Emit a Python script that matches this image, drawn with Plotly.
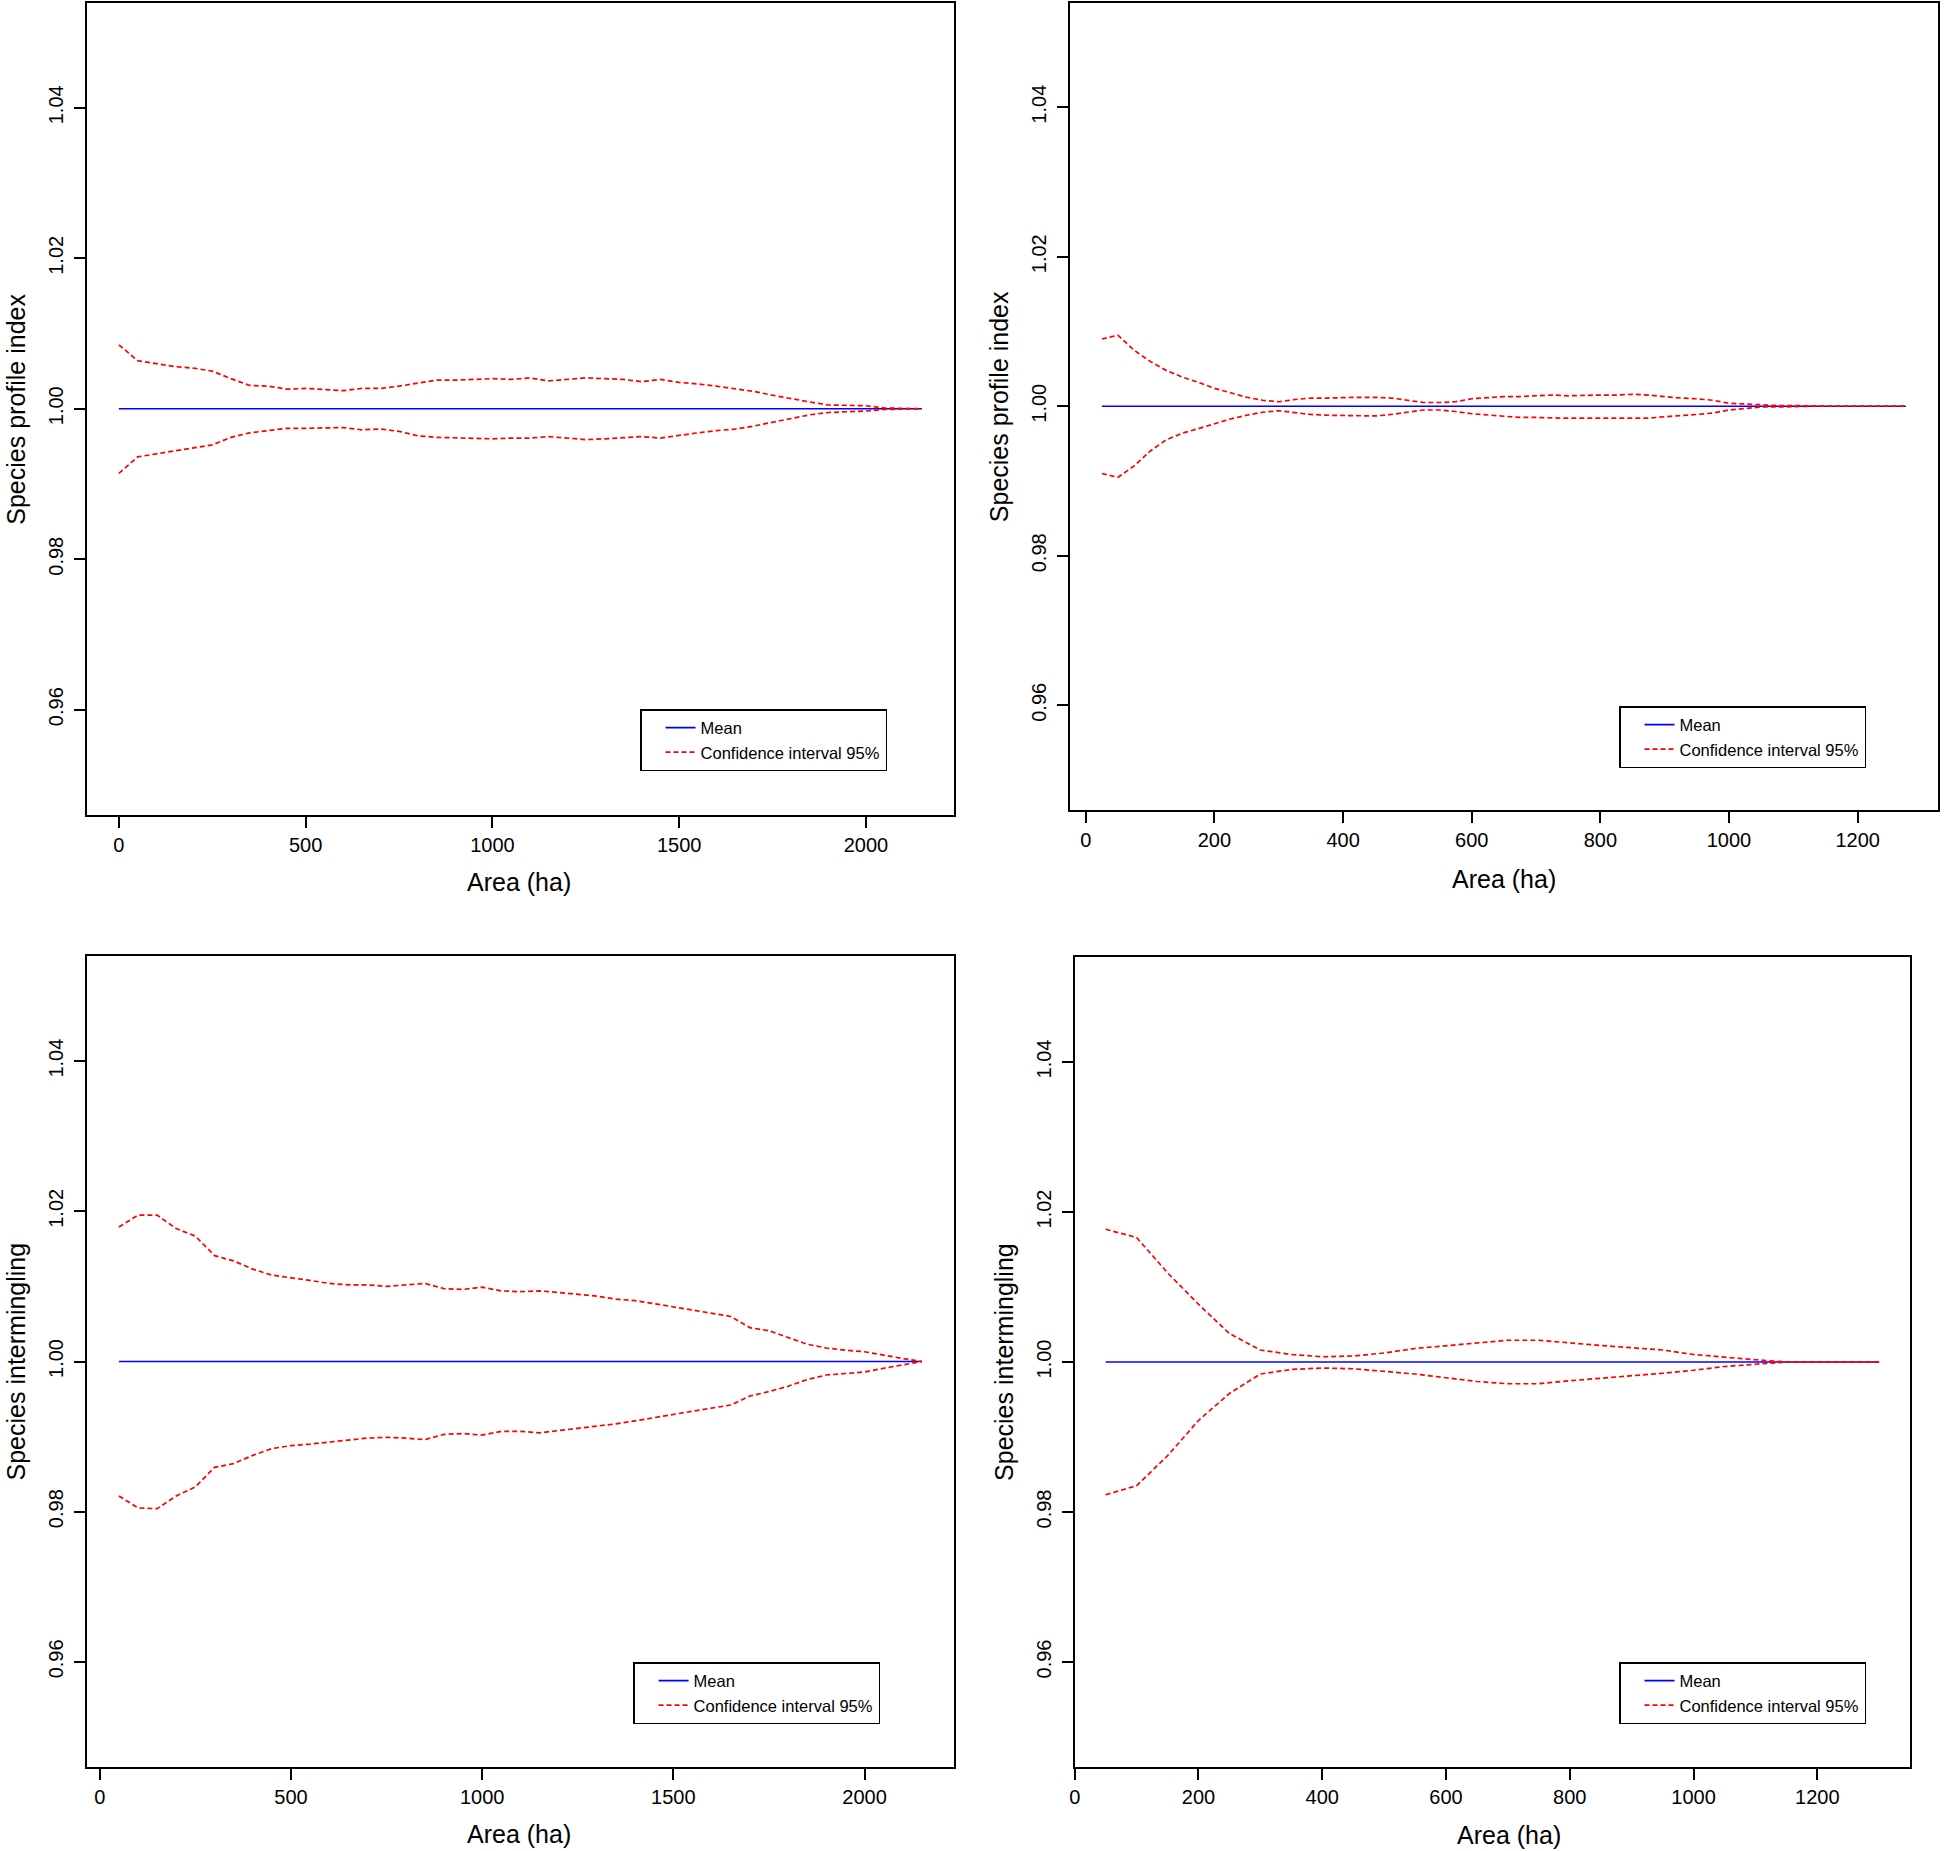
import plotly.graph_objects as go

W, H = 1946, 1851

# ---------------- data ----------------
# Panel A: top-left (Species profile index)
area_a = [0, 50, 100, 150, 200, 250, 300, 350, 400, 450, 500, 550, 600, 650, 700,
          750, 800, 850, 900, 950, 1000, 1050, 1100, 1150, 1200, 1250, 1300, 1350,
          1400, 1450, 1500, 1550, 1600, 1650, 1700, 1750, 1800, 1850, 1900, 1950,
          2000, 2050, 2100, 2150]
mean_a = [1.00, 1.00, 1.00, 1.00, 1.00, 1.00, 1.00, 1.00, 1.00, 1.00, 1.00, 1.00,
          1.00, 1.00, 1.00, 1.00, 1.00, 1.00, 1.00, 1.00, 1.00, 1.00, 1.00, 1.00,
          1.00, 1.00, 1.00, 1.00, 1.00, 1.00, 1.00, 1.00, 1.00, 1.00, 1.00, 1.00,
          1.00, 1.00, 1.00, 1.00, 1.00, 1.00, 1.00, 1.00]
upper_a = [1.0085, 1.0064, 1.0060, 1.0056, 1.0054, 1.0050, 1.0040, 1.0031, 1.0030,
           1.0026, 1.0027, 1.0025, 1.0024, 1.0027, 1.0027, 1.0030, 1.0034, 1.0038,
           1.0038, 1.0039, 1.0040, 1.0039, 1.0041, 1.0037, 1.0039, 1.0041, 1.0040,
           1.0039, 1.0036, 1.0039, 1.0035, 1.0033, 1.0030, 1.0027, 1.0023, 1.0018,
           1.0013, 1.0009, 1.0005, 1.0004, 1.0004, 1.0001, 1.0001, 1.0000]
lower_a = [0.9914, 0.9936, 0.9940, 0.9944, 0.9947, 0.9952, 0.9962, 0.9968, 0.9971,
           0.9974, 0.9974, 0.9975, 0.9975, 0.9972, 0.9973, 0.9970, 0.9964, 0.9962,
           0.9961, 0.9960, 0.9960, 0.9961, 0.9961, 0.9963, 0.9961, 0.9959, 0.9960,
           0.9961, 0.9963, 0.9961, 0.9965, 0.9968, 0.9971, 0.9973, 0.9977, 0.9982,
           0.9988, 0.9992, 0.9995, 0.9996, 0.9997, 0.9999, 1.0000, 1.0000]

# Panel B: top-right (Species profile index)
area_b = [25, 50, 75, 100, 125, 150, 175, 200, 225, 250, 275, 300, 325, 350, 375,
          400, 425, 450, 475, 500, 525, 550, 575, 600, 625, 650, 675, 700, 725, 750,
          775, 800, 825, 850, 875, 900, 925, 950, 975, 1000, 1025, 1050, 1075, 1100,
          1125, 1150, 1175, 1200, 1225, 1250, 1275]
mean_b = [1.00, 1.00, 1.00, 1.00, 1.00, 1.00, 1.00, 1.00, 1.00, 1.00, 1.00, 1.00,
          1.00, 1.00, 1.00, 1.00, 1.00, 1.00, 1.00, 1.00, 1.00, 1.00, 1.00, 1.00,
          1.00, 1.00, 1.00, 1.00, 1.00, 1.00, 1.00, 1.00, 1.00, 1.00, 1.00, 1.00,
          1.00, 1.00, 1.00, 1.00, 1.00, 1.00, 1.00, 1.00, 1.00, 1.00, 1.00, 1.00,
          1.00, 1.00, 1.00]
upper_b = [1.0090, 1.0095, 1.0075, 1.0060, 1.0048, 1.0039, 1.0032, 1.0024, 1.0018,
           1.0012, 1.0008, 1.0006, 1.0009, 1.0011, 1.0011, 1.0012, 1.0012, 1.0012,
           1.0011, 1.0008, 1.0005, 1.0005, 1.0006, 1.0010, 1.0012, 1.0013, 1.0013,
           1.0014, 1.0015, 1.0014, 1.0015, 1.0015, 1.0015, 1.0016, 1.0015, 1.0013,
           1.0011, 1.0010, 1.0008, 1.0004, 1.0003, 1.0001, 1.0001, 1.0001, 1.0000,
           1.0000, 1.0000, 1.0000, 1.0000, 1.0000, 1.0000]
lower_b = [0.9910, 0.9905, 0.9920, 0.9940, 0.9955, 0.9964, 0.9970, 0.9977, 0.9983,
           0.9988, 0.9992, 0.9994, 0.9991, 0.9989, 0.9988, 0.9988, 0.9988, 0.9987,
           0.9989, 0.9992, 0.9995, 0.9995, 0.9993, 0.9990, 0.9988, 0.9987, 0.9985,
           0.9985, 0.9984, 0.9984, 0.9984, 0.9984, 0.9984, 0.9984, 0.9984, 0.9986,
           0.9988, 0.9989, 0.9991, 0.9995, 0.9997, 0.9999, 0.9999, 1.0000, 1.0000,
           1.0000, 1.0000, 1.0000, 1.0000, 1.0000, 1.0000]

# Panel C: bottom-left (Species intermingling)
area_c = [50, 100, 150, 200, 250, 300, 350, 400, 450, 500, 550, 600, 650, 700, 750,
          800, 850, 900, 950, 1000, 1050, 1100, 1150, 1200, 1250, 1300, 1350, 1400,
          1450, 1500, 1550, 1600, 1650, 1700, 1750, 1800, 1850, 1900, 1950, 2000,
          2050, 2100, 2150]
mean_c = [1.00, 1.00, 1.00, 1.00, 1.00, 1.00, 1.00, 1.00, 1.00, 1.00, 1.00, 1.00,
          1.00, 1.00, 1.00, 1.00, 1.00, 1.00, 1.00, 1.00, 1.00, 1.00, 1.00, 1.00,
          1.00, 1.00, 1.00, 1.00, 1.00, 1.00, 1.00, 1.00, 1.00, 1.00, 1.00, 1.00,
          1.00, 1.00, 1.00, 1.00, 1.00, 1.00, 1.00]
upper_c = [1.0179, 1.0195, 1.0195, 1.0177, 1.0167, 1.0141, 1.0134, 1.0123, 1.0115,
           1.0112, 1.0108, 1.0104, 1.0102, 1.0102, 1.0100, 1.0102, 1.0104, 1.0097,
           1.0096, 1.0099, 1.0094, 1.0093, 1.0094, 1.0092, 1.0090, 1.0087, 1.0083,
           1.0081, 1.0077, 1.0073, 1.0069, 1.0065, 1.0060, 1.0045, 1.0041, 1.0032,
           1.0023, 1.0018, 1.0015, 1.0013, 1.0008, 1.0004, 1.0000]
lower_c = [0.9821, 0.9805, 0.9804, 0.9821, 0.9833, 0.9859, 0.9864, 0.9875, 0.9884,
           0.9888, 0.9890, 0.9893, 0.9896, 0.9898, 0.9899, 0.9898, 0.9896, 0.9903,
           0.9904, 0.9902, 0.9907, 0.9907, 0.9905, 0.9908, 0.9910, 0.9913, 0.9917,
           0.9921, 0.9925, 0.9929, 0.9934, 0.9938, 0.9942, 0.9954, 0.9960, 0.9967,
           0.9976, 0.9982, 0.9984, 0.9986, 0.9991, 0.9996, 1.0000]

# Panel D: bottom-right (Species intermingling)
area_d = [50, 100, 150, 200, 250, 300, 350, 400, 450, 500, 550, 600, 650, 700, 750,
          800, 850, 900, 950, 1000, 1050, 1100, 1150, 1200, 1250, 1300]
mean_d = [1.00, 1.00, 1.00, 1.00, 1.00, 1.00, 1.00, 1.00, 1.00, 1.00, 1.00, 1.00,
          1.00, 1.00, 1.00, 1.00, 1.00, 1.00, 1.00, 1.00, 1.00, 1.00, 1.00, 1.00,
          1.00, 1.00]
upper_d = [1.0177, 1.0166, 1.0119, 1.0077, 1.0038, 1.0016, 1.0010, 1.0007, 1.0008,
           1.0012, 1.0018, 1.0022, 1.0026, 1.0029, 1.0029, 1.0025, 1.0022, 1.0019,
           1.0016, 1.0010, 1.0006, 1.0003, 1.0000, 1.0000, 1.0000, 1.0000]
lower_d = [0.9823, 0.9835, 0.9875, 0.9922, 0.9958, 0.9984, 0.9990, 0.9992, 0.9991,
           0.9988, 0.9984, 0.9979, 0.9974, 0.9971, 0.9971, 0.9975, 0.9978, 0.9981,
           0.9985, 0.9989, 0.9994, 0.9997, 1.0000, 1.0000, 1.0000, 1.0000]

# ticks and labels
xticks_long = [0, 500, 1000, 1500, 2000]
xticks_short = [0, 200, 400, 600, 800, 1000, 1200]
yticks = [0.96, 0.98, 1.00, 1.02, 1.04]
ytick_labels = ["0.96", "0.98", "1.00", "1.02", "1.04"]
ylim = [0.95, 1.05]
x_title = "Area (ha)"
y_title_top = "Species profile index"
y_title_bottom = "Species intermingling"
legend_labels = ["Mean", "Confidence interval 95%"]

# ---------------- layout geometry (pixels) ----------------
FONT = "Liberation Sans, Arial, Helvetica, sans-serif"
panels = [
    dict(x=area_a, m=mean_a, u=upper_a, l=lower_a, xt=xticks_long, yt=y_title_top,
         box=(81, 951, 2.5, 815), leg=(636, 709), xtp=(515, 882), ytx=10),
    dict(x=area_b, m=mean_b, u=upper_b, l=lower_b, xt=xticks_short, yt=y_title_top,
         box=(1067, 1938, 2.5, 810), leg=(1618, 706), xtp=(1503, 879), ytx=996),
    dict(x=area_c, m=mean_c, u=upper_c, l=lower_c, xt=xticks_long, yt=y_title_bottom,
         box=(81, 951, 956, 1767), leg=(629, 1662), xtp=(515, 1834), ytx=10),
    dict(x=area_d, m=mean_d, u=upper_d, l=lower_d, xt=xticks_short, yt=y_title_bottom,
         box=(1072, 1910, 957, 1767), leg=(1618, 1662), xtp=(1508, 1835), ytx=1001),
]


def r_range(lo, hi):
    d = (hi - lo) * 0.04
    return [lo - d, hi + d]


fig = go.Figure()
layout = dict(
    width=W, height=H,
    margin=dict(l=0, r=0, t=0, b=0),
    paper_bgcolor="white", plot_bgcolor="white",
    font=dict(family=FONT, color="black"),
    annotations=[],
)

for i, p in enumerate(panels):
    n = i + 1
    sfx = "" if n == 1 else str(n)
    xa, ya = "x" + sfx, "y" + sfx
    leg = "legend" + sfx
    x0, x1, y0, y1 = p["box"]

    fig.add_trace(go.Scatter(x=p["x"], y=p["m"], mode="lines", name=legend_labels[0],
                             line=dict(color="#0000FF", width=1.7),
                             xaxis=xa, yaxis=ya, legend=leg, showlegend=True))
    fig.add_trace(go.Scatter(x=p["x"], y=p["u"], mode="lines", name=legend_labels[1],
                             line=dict(color="#FF0000", width=1.7, dash="5px,3px"),
                             xaxis=xa, yaxis=ya, legend=leg, showlegend=True))
    fig.add_trace(go.Scatter(x=p["x"], y=p["l"], mode="lines", name=legend_labels[1],
                             line=dict(color="#FF0000", width=1.7, dash="5px,3px"),
                             xaxis=xa, yaxis=ya, legend=leg, showlegend=False))

    axis_common = dict(showline=True, mirror=True, linecolor="black", linewidth=1.5,
                       showgrid=False, zeroline=False, ticks="outside", ticklen=11,
                       tickwidth=1.5, tickcolor="black",
                       tickfont=dict(family=FONT, size=20, color="black"))
    layout["xaxis" + sfx] = dict(axis_common, domain=[x0 / W, x1 / W], anchor=ya,
                                 range=r_range(min(p["x"]), max(p["x"])),
                                 tickmode="array", tickvals=p["xt"],
                                 ticktext=[str(v) for v in p["xt"]],
                                 ticklabelstandoff=0)
    layout["yaxis" + sfx] = dict(axis_common, domain=[1 - y1 / H, 1 - y0 / H], anchor=xa,
                                 range=r_range(*ylim), tickmode="array", tickvals=yticks,
                                 ticktext=ytick_labels, tickangle=-90,
                                 ticklabelstandoff=3)
    layout[leg] = dict(x=p["leg"][0] / W, y=1 - p["leg"][1] / H, xanchor="left",
                       yanchor="top", bgcolor="white", bordercolor="black",
                       borderwidth=1.5, font=dict(family=FONT, size=16.5, color="black"),
                       traceorder="normal", indentation=19, tracegroupgap=0)
    layout["annotations"].append(dict(text=x_title, x=p["xtp"][0] / W, y=1 - p["xtp"][1] / H,
                                      xref="paper", yref="paper", showarrow=False,
                                      xanchor="center", yanchor="middle",
                                      font=dict(family=FONT, size=25, color="black")))
    layout["annotations"].append(dict(text=p["yt"], x=p["ytx"] / W,
                                      y=1 - ((y0 + y1) / 2) / H,
                                      xref="paper", yref="paper", showarrow=False,
                                      textangle=-90, xanchor="center", yanchor="middle",
                                      font=dict(family=FONT, size=25, color="black")))

fig.update_layout(**layout)
fig.write_html("out.html",
               config={"displayModeBar": False},
               post_script="document.body.style.margin='0px';"
                           "document.body.style.padding='0px';"
                           "document.body.style.overflow='hidden';")
